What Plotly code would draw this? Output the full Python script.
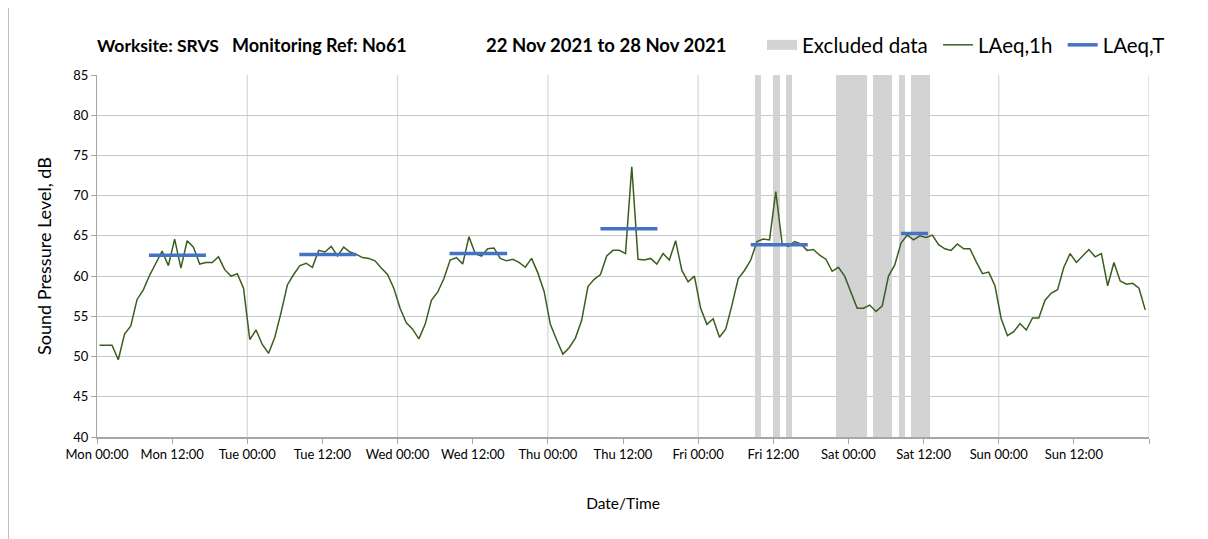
import plotly.graph_objects as go

# ---- data ----
day_labels = ["Mon", "Tue", "Wed", "Thu", "Fri", "Sat", "Sun"]

# hourly LAeq,1h values (Mon 00:00 ... Sun 23:00)
laeq_1h = [
    51.4, 51.4, 51.4, 49.6, 52.8, 53.8, 57.1, 58.3, 60.1, 61.6, 63.1, 61.3,
    64.6, 61.0, 64.4, 63.6, 61.5, 61.7, 61.7, 62.4, 60.8, 60.0, 60.3, 58.5,
    52.1, 53.3, 51.5, 50.4, 52.4, 55.5, 58.9, 60.2, 61.3, 61.6, 61.1, 63.2,
    63.0, 63.7, 62.5, 63.6, 63.0, 62.7, 62.3, 62.2, 61.9, 61.0, 60.2, 58.5,
    56.0, 54.2, 53.4, 52.2, 54.0, 57.0, 58.0, 59.7, 62.0, 62.3, 61.5, 64.9,
    62.8, 62.5, 63.4, 63.5, 62.2, 61.9, 62.1, 61.7, 61.1, 62.2, 60.4, 58.1,
    54.0, 52.1, 50.3, 51.1, 52.3, 54.5, 58.7, 59.6, 60.2, 62.5, 63.2, 63.2,
    62.8, 73.6, 62.1, 62.0, 62.2, 61.5, 62.8, 62.0, 64.4, 60.7, 59.3, 60.0,
    56.0, 54.0, 54.7, 52.4, 53.4, 56.4, 59.7, 60.7, 62.0, 64.3, 64.6, 64.5,
    70.5, 64.1, 63.7, 64.3, 64.0, 63.2, 63.3, 62.6, 62.1, 60.6, 61.1, 60.0,
    58.0, 56.0, 56.0, 56.4, 55.6, 56.3, 60.0, 61.4, 64.1, 65.1, 64.5, 65.0,
    64.8, 65.1, 63.9, 63.4, 63.2, 64.0, 63.4, 63.4, 61.8, 60.3, 60.5, 58.8,
    54.7, 52.6, 53.1, 54.1, 53.3, 54.8, 54.8, 57.0, 57.9, 58.3, 61.1, 62.8,
    61.7, 62.5, 63.3, 62.4, 62.8, 58.8, 61.7, 59.4, 59.0, 59.1, 58.5, 55.8,
]
hour_offset = 0.4  # readings plotted slightly after the hour mark

# LAeq,T daytime segments (start hour, end hour, level)
laeqT_start = [8.3, 32.3, 56.3, 80.4, 104.4, 128.4]
laeqT_end = [17.4, 41.4, 65.5, 89.5, 113.5, 132.7]
laeqT_value = [62.6, 62.7, 62.8, 65.9, 63.9, 65.3]

# excluded data periods (hours from Mon 00:00)
excl_start = [105, 108, 110, 118, 124, 128, 130]
excl_end = [106, 109, 111, 123, 127, 129, 133]

y_min, y_max = 40, 85

FONT = "Lato, 'Open Sans', sans-serif"
EXCL_COLOR = "#d3d3d3"
NB = "\u00a0"

fig = go.Figure()

# excluded periods as full-height bars
fig.add_trace(go.Bar(
    x=[(s + e) / 2 for s, e in zip(excl_start, excl_end)],
    y=[y_max - y_min] * len(excl_start),
    base=[y_min] * len(excl_start),
    width=[e - s for s, e in zip(excl_start, excl_end)],
    marker=dict(color=EXCL_COLOR, line=dict(width=0)),
    name="Excluded data",
    showlegend=False,
    legendgroup="excl",
    hoverinfo="skip",
))
# legend entry for excluded data (wide grey swatch)
fig.add_trace(go.Scatter(
    x=[None], y=[None], mode="lines",
    line=dict(color=EXCL_COLOR, width=12),
    name="Excluded data" + NB, legendgroup="excl",
))

# hourly line
hours = list(range(len(laeq_1h)))
fig.add_trace(go.Scatter(
    x=[h + hour_offset for h in hours],
    y=laeq_1h,
    mode="lines",
    line=dict(color="#3b5e1f", width=1.5),
    name="LAeq,1h" + NB,
))

# LAeq,T segments
tx, ty = [], []
for s, e, v in zip(laeqT_start, laeqT_end, laeqT_value):
    tx += [s, e, None]
    ty += [v, v, None]
fig.add_trace(go.Scatter(
    x=tx, y=ty, mode="lines",
    line=dict(color="#4472c4", width=3.5),
    name="LAeq,T",
))

# tick labels every 12 h
tickvals, ticktext = [], []
for i, d in enumerate(day_labels):
    tickvals += [i * 24, i * 24 + 12]
    ticktext += [f"{d} 00:00", f"{d} 12:00"]
tickvals.append(len(day_labels) * 24)
ticktext.append("")

W, H = 1200, 531
ML, MR, MT, MB = 89, 59, 67, 102
PW = W - ML - MR
PH = H - MT - MB

def px_x(x):  # window pixel -> paper x
    return (x - 8 - ML) / PW

def px_y(y):  # window pixel -> paper y
    return (H - MB - (y - 8)) / PH

# vertical day gridlines
shapes = []
for i in range(1, len(day_labels) + 1):
    shapes.append(dict(type="line", xref="x", yref="y", x0=i * 24, x1=i * 24,
                       y0=y_min, y1=y_max, line=dict(color="#d9d9d9", width=1.3),
                       layer="below"))
# outer chart border
shapes.append(dict(type="rect", xref="paper", yref="paper",
                   x0=px_x(8.5), x1=px_x(1206.5), y0=px_y(560), y1=px_y(-20),
                   line=dict(color="#bfbfbf", width=1), fillcolor="rgba(0,0,0,0)"))

annotations = []
for text, xpix, fs in [("<b>Worksite: SRVS</b>", 95, 17.5),
                       ("<b>Monitoring Ref: No61</b>", 230, 18),
                       ("<b>22 Nov 2021 to 28 Nov 2021</b>", 484, 18.5)]:
    annotations.append(dict(text=text, x=px_x(xpix), xanchor="left", y=px_y(45),
                            yanchor="middle", xref="paper", yref="paper",
                            showarrow=False,
                            font=dict(family=FONT, size=fs, color="#000000")))

fig.update_layout(
    width=W, height=H,
    margin=dict(l=ML, r=MR, t=MT, b=MB, autoexpand=False),
    paper_bgcolor="white", plot_bgcolor="white",
    font=dict(family=FONT, size=13, color="#000000"),
    barmode="overlay",
    bargap=0,
    shapes=shapes,
    annotations=annotations,
    showlegend=True,
    legend=dict(orientation="h", x=px_x(1170), xanchor="right",
                y=px_y(45), yanchor="middle",
                font=dict(family=FONT, size=20.5), bgcolor="rgba(0,0,0,0)",
                itemwidth=30, tracegroupgap=0),
    xaxis=dict(range=[0, 168], tickvals=tickvals, ticktext=ticktext,
               showgrid=False, zeroline=False, showline=True,
               linecolor="#a6a6a6", linewidth=1.5,
               ticks="outside", ticklen=5, tickcolor="#a6a6a6",
               tickfont=dict(family=FONT, size=13), automargin=False,
               title=dict(text="Date/Time", font=dict(family=FONT, size=15.5), standoff=37)),
    yaxis=dict(range=[y_min, y_max], dtick=5, tick0=40,
               showgrid=True, gridcolor="#c8c8c8", gridwidth=1.3,
               zeroline=False, showline=True, linecolor="#a6a6a6", linewidth=1.3,
               ticks="outside", ticklen=5, tickcolor="#a6a6a6",
               tickfont=dict(family=FONT, size=13), automargin=False,
               title=dict(text="Sound Pressure Level, dB", font=dict(family=FONT, size=18),
                          standoff=16)),
)

fig.write_html("out.html")
